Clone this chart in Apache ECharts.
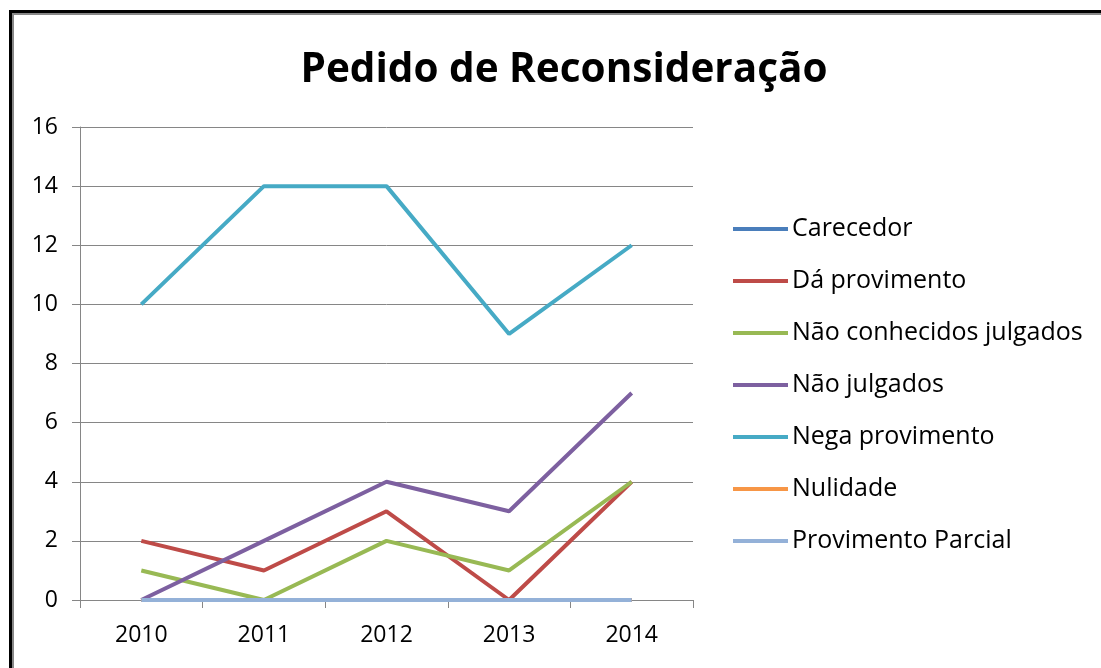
<!DOCTYPE html>
<html><head><meta charset="utf-8">
<script src="https://cdn.jsdelivr.net/npm/echarts@6/dist/echarts.min.js"></script>
<style>html,body{margin:0;padding:0;background:#fff}#c{width:1101px;height:668px}</style>
</head><body><div id="c"></div>
<script>
const title = 'Pedido de Reconsideração';
const categories = ['2010','2011','2012','2013','2014'];
const seriesNames = ['Carecedor','Dá provimento','Não conhecidos julgados','Não julgados','Nega provimento','Nulidade','Provimento Parcial'];
const carecedor = [0,0,0,0,0];
const daProvimento = [2,1,3,0,4];
const naoConhecidos = [1,0,2,1,4];
const naoJulgados = [0,2,4,3,7];
const negaProvimento = [10,14,14,9,12];
const nulidade = [0,0,0,0,0];
const provimentoParcial = [0,0,0,0,0];
const colors = ['#4a7ebb','#be4b48','#98b954','#7d60a0','#46aac5','#f79646','#94b1d8'];
const values = [carecedor,daProvimento,naoConhecidos,naoJulgados,negaProvimento,nulidade,provimentoParcial];

const chart = echarts.init(document.getElementById('c'));
chart.setOption({
  animation:false,
  color: colors,
  title:{text:title,left:559,top:45,textAlign:'center',textStyle:{fontFamily:'Open Sans',fontWeight:'bold',fontSize:40.5,color:'#000'}},
  grid:{left:80,top:127,width:613,height:473,containLabel:false},
  legend:{orient:'vertical',left:733,top:214,padding:0,itemWidth:55,itemHeight:4,itemGap:22,icon:'rect',
    textStyle:{fontFamily:'Open Sans',fontSize:25,color:'#000',lineHeight:30,padding:[0,0,0,-1]},
    data:seriesNames},
  xAxis:{type:'category',data:categories,boundaryGap:true,
    axisLine:{lineStyle:{color:'#868686',width:1}},
    axisTick:{show:true,length:8,inside:false,lineStyle:{color:'#868686'}},
    axisLabel:{fontFamily:'Open Sans',fontSize:23,color:'#000',margin:24}},
  yAxis:{type:'value',min:0,max:16,interval:2,
    axisLine:{show:true,lineStyle:{color:'#868686'}},
    axisTick:{show:true,length:8,lineStyle:{color:'#868686'}},
    axisLabel:{fontFamily:'Open Sans',fontSize:23,color:'#000',margin:22},
    splitLine:{lineStyle:{color:'#868686',width:1}}},
  graphic:[
    {type:'line',shape:{x1:10,y1:11.5,x2:1101,y2:11.5},style:{stroke:'#000',lineWidth:3},z:100},
    {type:'line',shape:{x1:13,y1:14,x2:1101,y2:14},style:{stroke:'#888',lineWidth:2},z:100},
    {type:'line',shape:{x1:10.5,y1:10,x2:10.5,y2:668},style:{stroke:'#000',lineWidth:3},z:100},
    {type:'line',shape:{x1:13,y1:13,x2:13,y2:668},style:{stroke:'#888',lineWidth:2},z:100}
  ],
  series: seriesNames.map((n,i)=>({name:n,type:'line',data:values[i],symbol:'none',
    lineStyle:{width:4,color:colors[i]},itemStyle:{color:colors[i]},z:2+i}))
});
</script></body></html>
